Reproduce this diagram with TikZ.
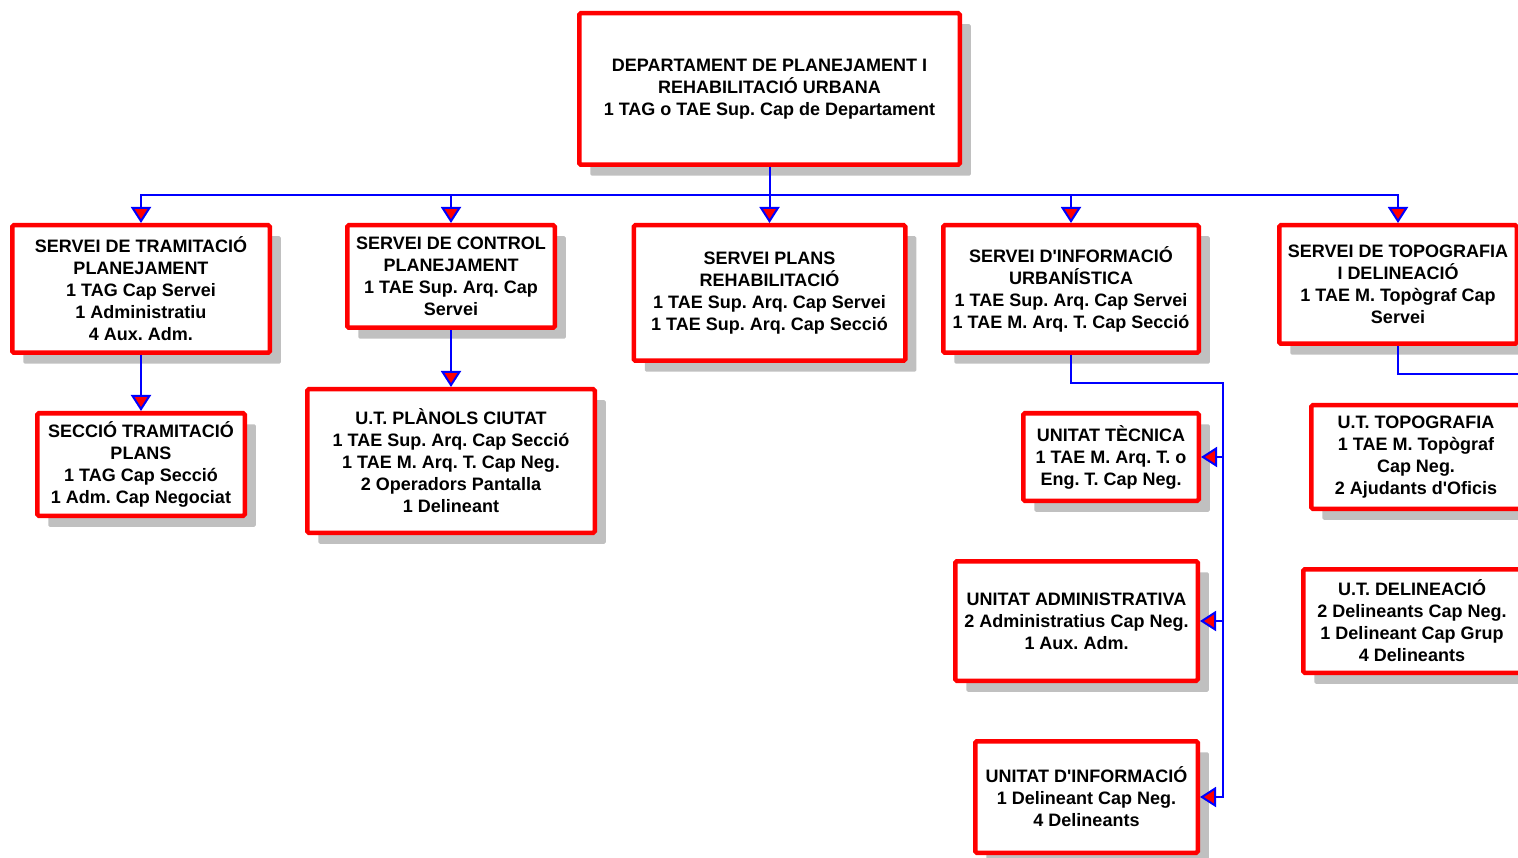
\documentclass[tikz,border=0pt]{standalone}
\usepackage{fontspec}
\setmainfont{Liberation Sans}[Ligatures=TeXOff]
\usetikzlibrary{arrows.meta,positioning,shadows}
\definecolor{shadowgrey}{RGB}{192,192,192}
\frenchspacing

\begin{document}
\begin{tikzpicture}[x=1pt,y=-1pt,
                    unit/.style={draw=red,line width=4.5pt,fill=white,rounded corners=1.5pt,
                                 align=center,inner sep=0pt,text=black,
                                 font=\fontsize{18}{22}\selectfont\bfseries,
                                 drop shadow={shadow xshift=11pt,shadow yshift=-11pt,
                                              fill=shadowgrey,opacity=1}},
                    wire/.style={draw=blue,line width=2pt},
                    link/.style={wire,-{Triangle[width=20pt,length=16pt,fill=red]}}]
	\useasboundingbox (0,0) rectangle (1518,858);
	\clip (0,0) rectangle (1518,858);

	% department and services
	\node[unit,minimum width=380.5pt,minimum height=151.5pt]	(dept)		at (769.5,89)	{DEPARTAMENT DE PLANEJAMENT I\\REHABILITACIÓ URBANA\\1 TAG o TAE Sup. Cap de Departament};
	\node[unit,minimum width=257.5pt,minimum height=127.5pt]	(tram)		at (141,289)	{SERVEI DE TRAMITACIÓ\\PLANEJAMENT\\1 TAG Cap Servei\\1 Administratiu\\4 Aux. Adm.};
	\node[unit,minimum width=207.5pt,minimum height=102.5pt]	(control)	at (451,276.5)	{SERVEI DE CONTROL\\PLANEJAMENT\\1 TAE Sup. Arq. Cap\\Servei};
	\node[unit,minimum width=271.5pt,minimum height=135.5pt]	(plans)		at (769.5,293)	{SERVEI PLANS\\REHABILITACIÓ\\1 TAE Sup. Arq. Cap Servei\\1 TAE Sup. Arq. Cap Secció};
	\node[unit,minimum width=255.5pt,minimum height=127.5pt]	(info)		at (1071,289)	{SERVEI D'INFORMACIÓ\\URBANÍSTICA\\1 TAE Sup. Arq. Cap Servei\\1 TAE M. Arq. T. Cap Secció};
	\node[unit,minimum width=237.5pt,minimum height=118.5pt]	(topo)		at (1398,284.5)	{SERVEI DE TOPOGRAFIA\\I DELINEACIÓ\\1 TAE M. Topògraf Cap\\Servei};

	% sections and units
	\node[unit,minimum width=207.5pt,minimum height=102.5pt]	(sectram)	[below=56pt of tram]		{SECCIÓ TRAMITACIÓ\\PLANS\\1 TAG Cap Secció\\1 Adm. Cap Negociat};
	\node[unit,minimum width=287.5pt,minimum height=143.5pt]	(planols)	[below=57pt of control]	{U.T. PLÀNOLS CIUTAT\\1 TAE Sup. Arq. Cap Secció\\1 TAE M. Arq. T. Cap Neg.\\2 Operadors Pantalla\\1 Delineant};
	\node[unit,minimum width=175.5pt,minimum height=87.5pt]	(tecnica)	at (1111,457)	{UNITAT TÈCNICA\\1 TAE M. Arq. T. o\\Eng. T. Cap Neg.};
	\node[unit,minimum width=242.5pt,minimum height=119.5pt]	(admin)		at (1076.5,621)	{UNITAT ADMINISTRATIVA\\2 Administratius Cap Neg.\\1 Aux. Adm.};
	\node[unit,minimum width=222.5pt,minimum height=111.5pt]	(infunit)	at (1086.5,797)	{UNITAT D'INFORMACIÓ\\1 Delineant Cap Neg.\\4 Delineants};
	\node[unit,minimum width=209.5pt,minimum height=103.5pt]	(uttopo)	at (1416,457)	{U.T. TOPOGRAFIA\\1 TAE M. Topògraf\\Cap Neg.\\2 Ajudants d'Oficis};
	\node[unit,minimum width=217.5pt,minimum height=103.5pt]	(utdel)		at (1412,621)	{U.T. DELINEACIÓ\\2 Delineants Cap Neg.\\1 Delineant Cap Grup\\4 Delineants};

	\coordinate (infobus) at (1223,383);
	\coordinate (topobus) at (1540,374);

	\draw[link]	(dept.south) -- ++(0,28) -| (tram.north);
	\draw[link]	(dept.south) -- ++(0,28) -| (control.north);
	\draw[link]	(dept.south) -- (plans.north);
	\draw[link]	(dept.south) -- ++(0,28) -| (info.north);
	\draw[link]	(dept.south) -- ++(0,28) -| (topo.north);
	\path[link]	(tram)		edge	(sectram)
				(control)	edge	(planols);
	\draw[link]	(info.south) |- (infobus) |- (tecnica.east);
	\draw[link]	(infobus) |- (admin.east);
	\draw[link]	(infobus) |- (infunit.east);
	\draw[wire]	(topo.south) |- (topobus);
\end{tikzpicture}
\end{document}
